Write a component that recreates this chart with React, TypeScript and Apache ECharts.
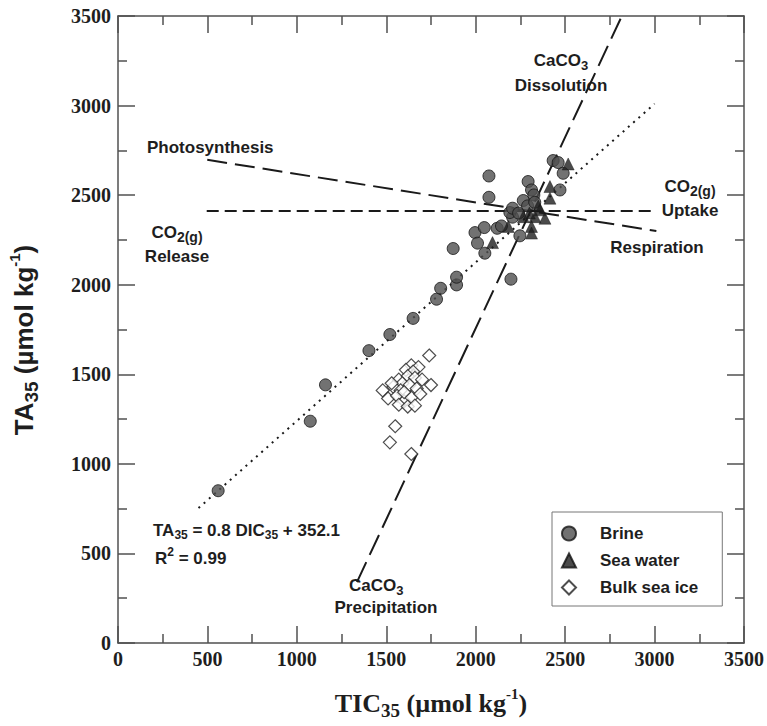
import React, { useEffect, useRef } from "react";
import * as echarts from "echarts";

// ---------- data (TIC35, TA35) in µmol/kg ----------
const brine: [number, number][] = [
  [560, 850], [1075, 1238], [1160, 1441], [1403, 1632], [1520, 1722],
  [1650, 1812], [1781, 1919], [1804, 1980], [1893, 1999], [1893, 2042],
  [1874, 2202], [1996, 2291], [2010, 2232], [2051, 2176], [2048, 2319],
  [2074, 2607], [2074, 2488], [2120, 2315], [2144, 2328], [2197, 2031],
  [2206, 2377], [2191, 2403], [2206, 2427], [2247, 2273], [2266, 2470],
  [2293, 2576], [2312, 2529], [2325, 2501], [2433, 2693], [2461, 2682],
  [2489, 2622], [2471, 2529], [2240, 2400], [2290, 2440], [2330, 2460],
];
const seaWater: [number, number][] = [
  [2517, 2674], [2415, 2548], [2415, 2483], [2359, 2418], [2331, 2380],
  [2266, 2380], [2387, 2371], [2312, 2325], [2312, 2288], [2094, 2235],
  [2182, 2325], [2300, 2400], [2350, 2440],
];
const bulkSeaIce: [number, number][] = [
  [1740, 1605], [1640, 1550], [1680, 1540], [1610, 1525], [1650, 1515],
  [1570, 1470], [1620, 1490], [1660, 1480], [1700, 1470], [1590, 1450],
  [1480, 1410], [1540, 1430], [1580, 1410], [1630, 1440], [1670, 1420],
  [1750, 1440], [1510, 1365], [1560, 1380], [1600, 1350], [1640, 1370],
  [1690, 1390], [1570, 1330], [1620, 1320], [1660, 1325], [1550, 1210],
  [1520, 1120], [1640, 1055], [1600, 1400], [1530, 1450],
];
const regressionLine: [number, number][] = [[450, 753], [3000, 3010]];
const caco3Line: [number, number][] = [[1336, 340], [2817, 3500]];
const photoRespLine: [number, number][] = [[499, 2697], [3010, 2300]];
const co2Line: [number, number][] = [[496, 2412], [2991, 2412]];

const seriesNames = ["Brine", "Sea water", "Bulk sea ice"];
const axisMin = 0;
const axisMax = 3500;
const axisStep = 500;

// ---------- helpers ----------
let ctx2d: CanvasRenderingContext2D | null = null;
function measure(text: string, font: string): number {
  if (!ctx2d) ctx2d = document.createElement("canvas").getContext("2d");
  ctx2d!.font = font;
  return ctx2d!.measureText(text).width;
}
type Part = { t: string; size: number; dy?: number };
function textRun(
  x: number, y: number, parts: Part[], align: "left" | "center" | "right",
  family: string, fill = "#1e1e1e", weight = "bold"
): any[] {
  const widths = parts.map((p) => measure(p.t, `${weight} ${p.size}px "${family}"`));
  const total = widths.reduce((a, b) => a + b, 0);
  let cx = align === "left" ? x : align === "center" ? x - total / 2 : x - total;
  return parts.map((p, i) => {
    const el = {
      type: "text", x: cx, y: y + (p.dy || 0), silent: true,
      style: {
        text: p.t, fontSize: p.size, fontFamily: family, fontWeight: weight,
        fill, align: "left", verticalAlign: "middle",
      },
    };
    cx += widths[i];
    return el;
  });
}

const SANS = "Liberation Sans";
const SERIF = "Liberation Serif";
const AX = "#505050";

export default function App() {
  const ref = useRef<HTMLDivElement>(null);
  useEffect(() => {
    if (!ref.current) return;
    const chart = echarts.init(ref.current, undefined, { renderer: "svg" });

    const axisCommon = (show: boolean, margin = 6) => ({
      type: "value" as const,
      min: axisMin, max: axisMax, interval: axisStep,
      axisLine: { show: true, onZero: false, lineStyle: { color: AX, width: 1.5 } },
      axisTick: { show: true, inside: true, length: 17, lineStyle: { color: AX, width: 1.5 } },
      minorTick: { show: true, splitNumber: 2, length: 9, lineStyle: { color: AX, width: 1.5 } },
      splitLine: { show: false },
      minorSplitLine: { show: false },
      axisLabel: {
        show, margin, fontFamily: SERIF, fontWeight: "bold", fontSize: 20, color: "#1e1e1e",
        formatter: (v: number) => String(v),
      },
    });

    const lineSeries = (data: [number, number][], dash: number[], width = 2) => ({
      type: "line", data, showSymbol: false, symbol: "none", silent: true, z: 1,
      lineStyle: { color: "#1a1a1a", width, type: dash, cap: "butt" },
      xAxisIndex: 0, yAxisIndex: 0,
    });

    const graphics: any[] = [
      ...textRun(561, 60, [{ t: "CaCO", size: 17 }, { t: "3", size: 13, dy: 5 }], "center", SANS),
      ...textRun(561, 85, [{ t: "Dissolution", size: 17 }], "center", SANS),
      ...textRun(147, 147, [{ t: "Photosynthesis", size: 17 }], "left", SANS),
      ...textRun(177, 232, [{ t: "CO", size: 17 }, { t: "2(g)", size: 14, dy: 5 }], "center", SANS),
      ...textRun(177, 256, [{ t: "Release", size: 17 }], "center", SANS),
      ...textRun(690, 186, [{ t: "CO", size: 17 }, { t: "2(g)", size: 14, dy: 5 }], "center", SANS),
      ...textRun(690, 210, [{ t: "Uptake", size: 17 }], "center", SANS),
      ...textRun(657, 247, [{ t: "Respiration", size: 17 }], "center", SANS),
      ...textRun(153, 530, [
        { t: "TA", size: 17 }, { t: "35", size: 12, dy: 5 }, { t: " = 0.8 DIC", size: 17 },
        { t: "35", size: 12, dy: 5 }, { t: " + 352.1", size: 17 },
      ], "left", SANS),
      ...textRun(155, 558, [{ t: "R", size: 17 }, { t: "2", size: 12, dy: -6 }, { t: " = 0.99", size: 17 }], "left", SANS),
      ...textRun(349, 585, [{ t: "CaCO", size: 17 }, { t: "3", size: 13, dy: 5 }], "left", SANS),
      ...textRun(386, 607, [{ t: "Precipitation", size: 17 }], "center", SANS),
      ...textRun(431, 703, [
        { t: "TIC", size: 26 }, { t: "35", size: 19, dy: 7 }, { t: " (µmol kg", size: 26 },
        { t: "-1", size: 15, dy: -9 }, { t: ")", size: 26 },
      ], "center", SERIF),
      {
        type: "group", x: 24, y: 340, rotation: Math.PI / 2, silent: true,
        children: textRun(0, 0, [
          { t: "TA", size: 26 }, { t: "35", size: 19, dy: 7 }, { t: " (µmol kg", size: 26 },
          { t: "-1", size: 15, dy: -10 }, { t: ")", size: 26 },
        ], "center", SANS),
      },
    ];

    chart.setOption({
      animation: false,
      backgroundColor: "#ffffff",
      grid: { left: 118, right: 23, top: 16, bottom: 83, containLabel: false },
      xAxis: [
        { ...axisCommon(true, 6), position: "bottom" },
        { ...axisCommon(false), position: "top" },
      ],
      yAxis: [
        { ...axisCommon(true, 7), position: "left" },
        { ...axisCommon(false), position: "right" },
      ],
      legend: {
        data: seriesNames,
        orient: "vertical",
        left: 552, top: 512,
        padding: [13, 24, 10, 9],
        itemGap: 10,
        itemWidth: 14, itemHeight: 14,
        borderColor: "#777", borderWidth: 1,
        backgroundColor: "#fff",
        textStyle: { fontFamily: SANS, fontWeight: "bold", fontSize: 17, color: "#1e1e1e", padding: [0, 0, 0, 19] },
      },
      graphic: { elements: graphics },
      series: [
        lineSeries(regressionLine, [2, 5], 2),
        lineSeries(caco3Line, [22, 8], 2),
        lineSeries(photoRespLine, [20, 8], 2),
        lineSeries(co2Line, [12, 6], 2),
        {
          name: seriesNames[0], type: "scatter", data: brine, symbol: "circle", symbolSize: 12, z: 3,
          itemStyle: { color: "#4f4f4f", borderColor: "#151515", borderWidth: 1 },
        },
        {
          name: seriesNames[1], type: "scatter", data: seaWater, symbol: "triangle", symbolSize: 12, z: 4,
          itemStyle: { color: "#1e1e1e", borderColor: "#111", borderWidth: 0.5 },
        },
        {
          name: seriesNames[2], type: "scatter", data: bulkSeaIce, symbol: "diamond", symbolSize: 13, z: 3,
          itemStyle: { color: "#ffffff", borderColor: "#222", borderWidth: 1.2 },
        },
      ],
    });
    return () => chart.dispose();
  }, []);
  return (
    <div
      ref={ref}
      style={{ position: "absolute", left: 0, top: 0, width: 767, height: 726, background: "#fff" }}
    />
  );
}
